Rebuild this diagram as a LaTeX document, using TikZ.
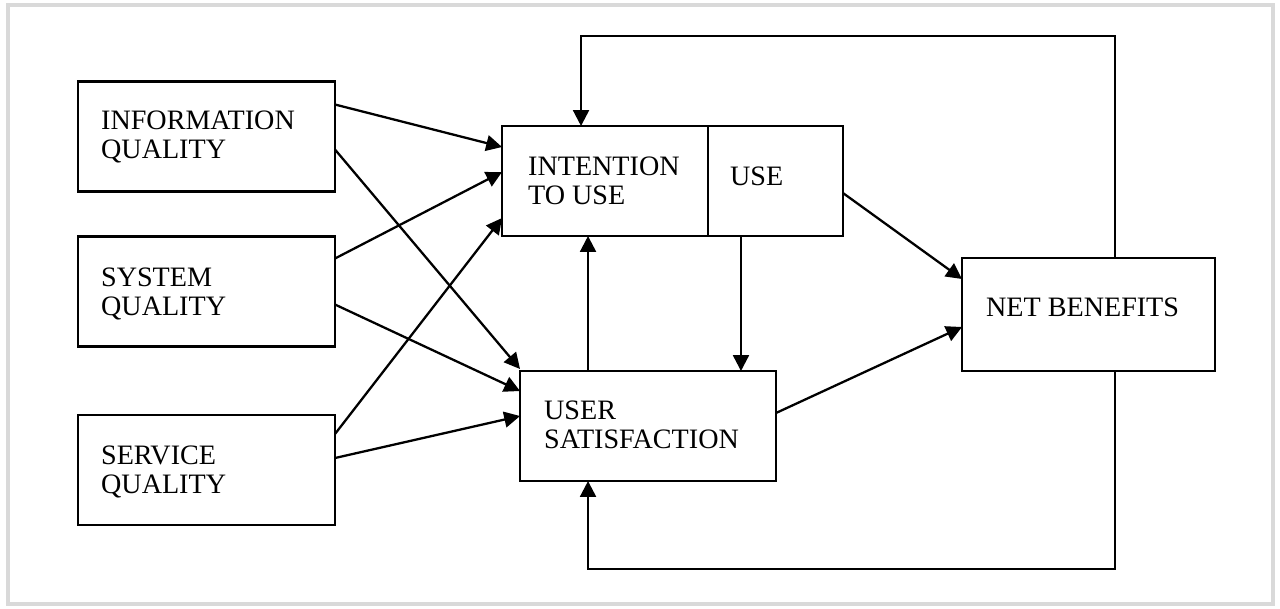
\documentclass[tikz,border=0pt]{standalone}
\usepackage{fontspec}
\setmainfont{Liberation Serif}
\usetikzlibrary{arrows.meta,positioning,calc}

\begin{document}
\begin{tikzpicture}[x=0.02cm,y=-0.02cm,line width=1.3pt,>={Triangle[length=9pt,width=9pt]},
bx/.style={draw,minimum height=2.2cm,inner sep=0,outer sep=0},
tx/.style={anchor=north west,inner sep=0,align=left,font=\fontsize{16}{16.5}\selectfont}]
\useasboundingbox(0,0)rectangle(1280,608);
\fill[white](0,0)rectangle(1280,608);
\draw[black!15,line width=2pt](8,5)rectangle(1273,604);
\node[bx,minimum width=5.14cm](info)at(206.5,136.5){};
\node[bx,minimum width=5.14cm](sys)at(206.5,291.5){};
\node[bx,minimum width=5.14cm](serv)at(206.5,470){};
\node[bx,minimum width=4.12cm](itu)at(605,181){};
\node[bx,minimum width=2.7cm,right=0pt of itu](use){};
\node[bx,minimum width=5.12cm](usat)at(648,426){};
\node[bx,minimum width=5.06cm,minimum height=2.26cm](net)at(1088.5,314.5){};
\node[tx](info-t)at($(info.north west)+(22,28)$){INFORMATION\\QUALITY};
\node[tx](sys-t)at($(sys.north west)+(22,30)$){SYSTEM\\QUALITY};
\node[tx](serv-t)at($(serv.north west)+(22,30)$){SERVICE\\QUALITY};
\node[tx](itu-t)at($(itu.north west)+(25,30)$){INTENTION\\TO USE};
\node[tx](use-t)at($(use.north west)+(21,40)$){USE};
\node[tx](usat-t)at($(usat.north west)+(23,29)$){USER\\SATISFACTION};
\node[tx](net-t)at($(net.north west)+(23,39)$){NET BENEFITS};
\draw[->]($(info.north east)+(0,23)$)--($(itu.north west)+(0,21)$);
\draw[->]($(info.north east)+(0,68)$)--($(usat.north west)+(0,-2)$);
\draw[->]($(sys.north east)+(0,22)$)--($(itu.north west)+(0,46)$);
\draw[->]($(sys.north east)+(0,68)$)--($(usat.north west)+(0,20)$);
\draw[->]($(serv.north east)+(0,19)$)--($(itu.north west)+(0,92)$);
\draw[->]($(serv.north east)+(0,43)$)--($(usat.north west)+(0,45)$);
\coordinate(S1)at($(usat.north west)+(68,0)$);
\coordinate(U1)at($(use.south west)+(33,0)$);
\draw[->](S1)--(S1|-itu.south);
\draw[->](U1)--(U1|-usat.north);
\draw[->]($(use.north east)+(0,67)$)--($(net.north west)+(0,21)$);
\draw[->]($(usat.north east)+(0,42)$)--($(net.north west)+(0,69)$);
\coordinate(N1)at($(net.north west)+(153,0)$);
\coordinate(N2)at($(net.south west)+(153,0)$);
\coordinate(I1)at($(itu.north west)+(79,0)$);
\coordinate(S2)at($(usat.south west)+(68,0)$);
\draw[->](N1)--++(0,-222)-|(I1);
\draw[->](N2)--++(0,198)-|(S2);
\end{tikzpicture}
\end{document}
